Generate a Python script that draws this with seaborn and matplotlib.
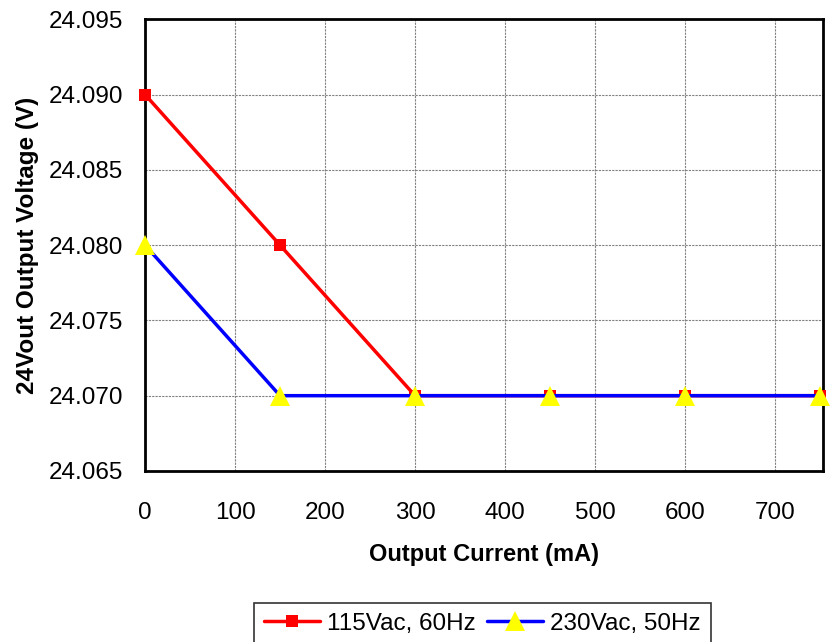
import pandas as pd
import matplotlib
matplotlib.use("Agg")
import matplotlib.pyplot as plt
import seaborn as sns

# -----------------------------------
# Data
# -----------------------------------

current_ma = [0, 150, 300, 450, 600, 750]
v_115 = [24.090, 24.080, 24.070, 24.070, 24.070, 24.070]
v_230 = [24.080, 24.070, 24.070, 24.070, 24.070, 24.070]
labels = ["115Vac, 60Hz", "230Vac, 50Hz"]

df = pd.DataFrame({
    "current": current_ma * 2,
    "voltage": v_115 + v_230,
    "series": [labels[0]] * len(current_ma) + [labels[1]] * len(current_ma),
})

# -----------------------------------
# Style
# -----------------------------------

sns.set_style("white")
plt.rcParams["font.family"] = ["Liberation Sans", "DejaVu Sans"]
plt.rcParams["text.color"] = "black"
plt.rcParams["axes.labelcolor"] = "black"
plt.rcParams["xtick.color"] = "black"
plt.rcParams["ytick.color"] = "black"

fig = plt.figure(figsize=(8.31, 6.42), dpi=100)
ax = fig.add_axes([0.1745, 0.2664, 0.8155, 0.7036])

sns.lineplot(
    data=df[df["series"] == labels[0]],
    x="current", y="voltage",
    color="#ff0000", linewidth=2.5,
    marker="s", markersize=9, markeredgewidth=0,
    label=labels[0], ax=ax, clip_on=False, zorder=3,
)

sns.lineplot(
    data=df[df["series"] == labels[1]],
    x="current", y="voltage",
    color="#0000ff", linewidth=2.5,
    marker="^", markersize=15, markerfacecolor="#ffff00",
    markeredgewidth=0,
    label=labels[1], ax=ax, clip_on=False, zorder=4,
)

ax.set_xlim(0, 753)
ax.set_ylim(24.065, 24.095)
ax.set_xticks([0, 100, 200, 300, 400, 500, 600, 700])
ax.set_yticks([24.065, 24.070, 24.075, 24.080, 24.085, 24.090, 24.095])
ax.yaxis.set_major_formatter(matplotlib.ticker.FormatStrFormatter("%.3f"))

ax.grid(True, color="#808080", linestyle=(0, (2, 1)), linewidth=0.8)
ax.tick_params(axis="both", length=0, labelsize=17.5, colors="black")
ax.tick_params(axis="y", pad=16)
ax.tick_params(axis="x", pad=22)

for s in ax.spines.values():
    s.set_color("black")
    s.set_linewidth(2)

ax.set_xlabel("Output Current (mA)", fontsize=17, fontweight="bold", labelpad=14)
ax.set_ylabel("24Vout Output Voltage (V)", fontsize=17.5, fontweight="bold", labelpad=7)

ax.get_legend().remove()
handles, lbls = ax.get_legend_handles_labels()
leg = fig.legend(
    handles, lbls,
    loc="lower center", bbox_to_anchor=(0.5806, -0.004),
    ncol=2, fontsize=17.5, frameon=True, fancybox=False,
    handlelength=2.3, handletextpad=0.3, columnspacing=0.45,
    borderpad=0.4, borderaxespad=0,
)
leg.get_frame().set_edgecolor("black")
leg.get_frame().set_linewidth(1.2)

plt.savefig("out.png", dpi=100)
plt.close()
